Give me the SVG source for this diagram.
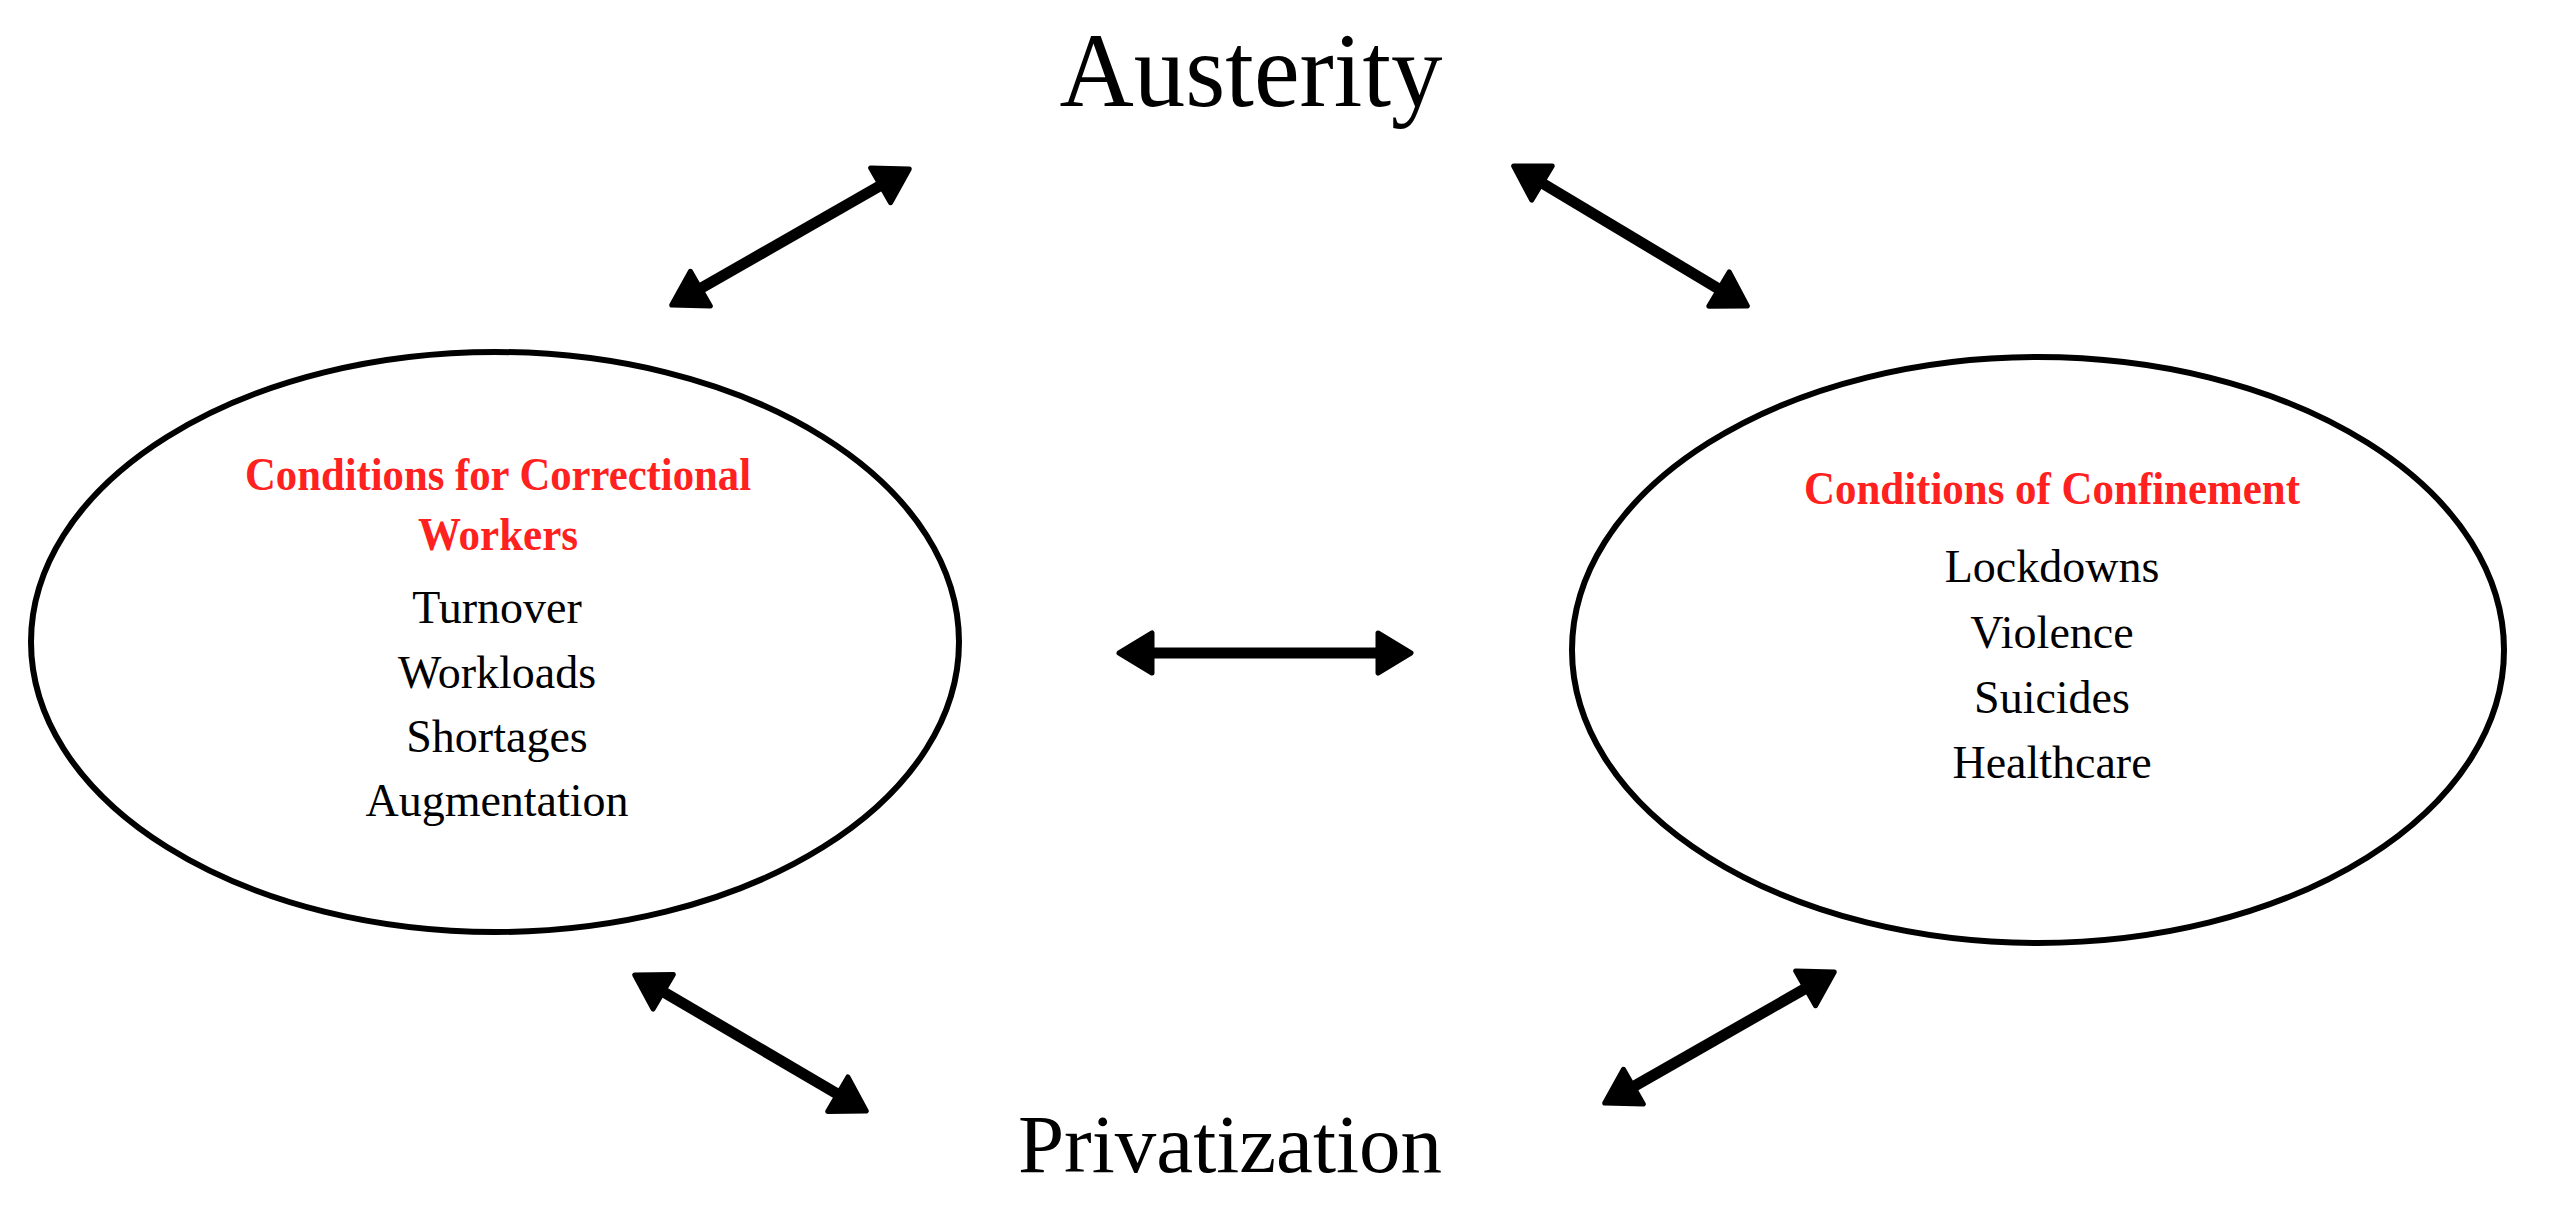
<svg xmlns="http://www.w3.org/2000/svg" width="2553" height="1214" viewBox="0 0 2553 1214">
<style>
.bg{fill:#fff}
.node{fill:#fff;stroke:#000;stroke-width:6}
.title{font-family:"Liberation Serif","Times New Roman",serif;fill:#000;text-anchor:middle}
.head{font-family:"Liberation Serif","Times New Roman",serif;font-weight:bold;font-size:46px;fill:#ff2020;text-anchor:middle}
.item{font-family:"Liberation Serif","Times New Roman",serif;font-size:46px;fill:#000;text-anchor:middle}
.conn{stroke:#000;stroke-width:11;fill:none;marker-start:url(#ah);marker-end:url(#ah)}
</style>
<defs>
<marker id="ah" markerUnits="userSpaceOnUse" markerWidth="45" markerHeight="54" viewBox="-5 -27 45 54" refX="10" refY="0" orient="auto-start-reverse">
<path d="M0,-20 L33,0 L0,20 Z" fill="#000" stroke="#000" stroke-width="5" stroke-linejoin="round"/>
</marker>
</defs>
<rect class="bg" x="0" y="0" width="2553" height="1214"/>
<g id="austerity">
<text class="title" x="1251" y="106" font-size="106" textLength="383" lengthAdjust="spacingAndGlyphs">Austerity</text>
</g>
<g id="privatization">
<text class="title" x="1230" y="1172" font-size="83">Privatization</text>
</g>
<g id="correctional-workers">
<ellipse class="node" cx="495" cy="642" rx="464" ry="290"/>
<text class="head" x="498" y="490" textLength="506" lengthAdjust="spacingAndGlyphs">Conditions for Correctional</text>
<text class="head" x="498" y="550" textLength="160" lengthAdjust="spacingAndGlyphs">Workers</text>
<text class="item" x="497" y="623">Turnover</text>
<text class="item" x="497" y="688">Workloads</text>
<text class="item" x="497" y="752">Shortages</text>
<text class="item" x="497" y="816">Augmentation</text>
</g>
<g id="confinement">
<ellipse class="node" cx="2038" cy="650" rx="466" ry="293"/>
<text class="head" x="2052" y="504" textLength="496" lengthAdjust="spacingAndGlyphs">Conditions of Confinement</text>
<text class="item" x="2052" y="582">Lockdowns</text>
<text class="item" x="2052" y="648">Violence</text>
<text class="item" x="2052" y="713">Suicides</text>
<text class="item" x="2052" y="778">Healthcare</text>
</g>
<g id="connectors">
<line class="conn" x1="691.7" y1="293.6" x2="889.3" y2="180.4"/>
<line class="conn" x1="1533.4" y1="177.9" x2="1727.6" y2="294.2"/>
<line class="conn" x1="1142" y1="653" x2="1388" y2="653"/>
<line class="conn" x1="654.6" y1="986.7" x2="846.4" y2="1099.3"/>
<line class="conn" x1="1624.7" y1="1091.6" x2="1814.3" y2="983.4"/>
</g>
</svg>
